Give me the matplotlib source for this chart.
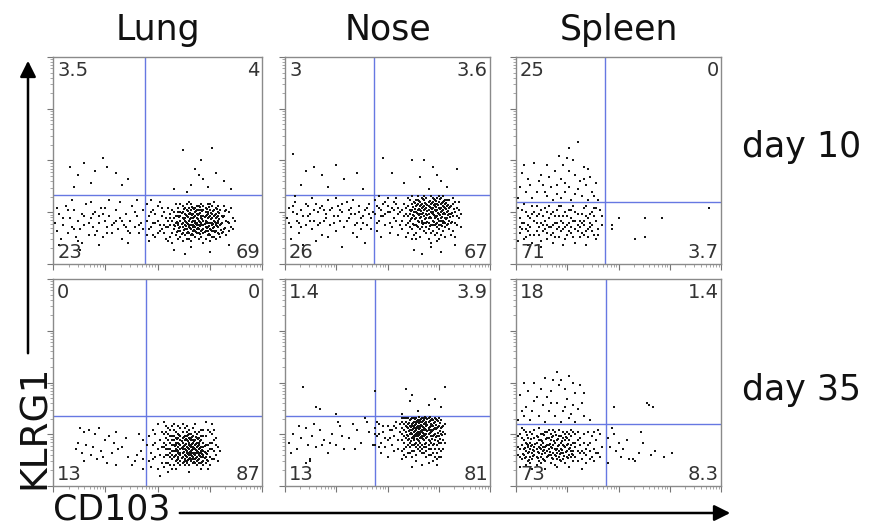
import numpy as np
import matplotlib
matplotlib.use('Agg')
import matplotlib.pyplot as plt
from matplotlib.patches import FancyArrowPatch

plt.rcParams['font.family'] = ['DejaVu Sans']

tissues = ['Lung', 'Nose', 'Spleen']
days = ['day 10', 'day 35']

# gate positions (percent of each axis): CD103 (vertical line), KLRG1 (horizontal line)
gate_x = [[44.0, 43.4, 43.5], [44.3, 43.9, 43.8]]
gate_y = [[33.5, 33.3, 30.0], [34.0, 33.9, 30.0]]

# quadrant percentages: upper-left, upper-right, lower-left, lower-right
quad_labels = [[('3.5', '4', '23', '69'), ('3', '3.6', '26', '67'), ('25', '0', '71', '3.7')],
               [('0', '0', '13', '87'), ('1.4', '3.9', '13', '81'), ('18', '1.4', '73', '8.3')]]

# events (CD103 %, KLRG1 %)
lung_d10 = [
 (8,47),(12,43),(15,49),(20,45),(24,51),(26,47),(30,44),(33,38),(18,39),(10,37),(36,41),
 (62,55),(76,56),(68,46),(70,43),(72,41),(66,38),(74,37),(78,44),(82,40),(85,36),(58,36),(71,50),(64,35),
 (1,20),(2,16),(3,24),(4,12),(5,19),(6,28),(7,15),(8,22),(9,18),(10,26),
 (11,13),(12,21),(13,17),(14,24),(15,19),(16,29),(17,14),(18,22),(19,18),(20,25),
 (21,16),(22,20),(23,27),(24,13),(25,21),(26,18),(27,23),(28,15),(29,20),(30,26),
 (31,17),(32,22),(33,12),(34,19),(35,24),(36,16),(37,21),(38,28),(39,18),(40,23),
 (41,15),(42,20),(43,26),(3,9),(9,31),(14,10),(18,30),(22,9),(27,31),(32,30),
 (36,10),(40,31),(5,22),(10,17),(15,23),(20,14),(24,24),(28,19),(33,21),(37,15),
 (41,19),(2,27),(7,26),(12,11),(17,20),(22,23),(26,15),(30,21),(35,18),(39,25),
 (43,17),(13,7),(25,27),(19,24),
 (45,21),(46,17),(47,25),(48,14),(49,20),(50,28),(51,16),(52,23),(53,19),(54,12),
 (45,29),(46,23),(47,18),(48,26),(49,13),(50,21),(51,30),(52,17),(53,25),(54,22),
 (46,11),(48,20),(50,15),(52,27),(54,18),(45,14),(47,31),(49,24),(51,19),(53,15),
 (55,18),(56,22),(57,15),(58,25),(59,20),(55,27),(56,13),(57,21),(58,17),(59,29),
 (55,11),(56,19),(57,26),(58,22),(59,14),(56,24),(57,10),(58,19),(59,23),(55,21),
 (60,16),(61,21),(62,18),(63,24),(64,20),(60,27),(61,13),(62,22),(63,17),(64,26),
 (60,20),(61,25),(62,15),(63,21),(64,12),(60,23),(61,18),(62,28),(63,19),(64,23),
 (60,12),(61,29),(62,20),(63,14),(64,17),(62,25),(63,27),(64,15),(61,16),(60,19),
 (62,11),(63,22),(64,29),(61,23),(60,25),
 (65,18),(66,22),(67,16),(68,25),(69,20),(65,27),(66,14),(67,21),(68,18),(69,24),
 (65,21),(66,26),(67,19),(68,13),(69,17),(65,15),(66,19),(67,24),(68,21),(69,28),
 (65,24),(66,17),(67,27),(68,16),(69,22),(65,12),(66,29),(67,14),(68,23),(69,15),
 (65,19),(66,24),(67,18),(68,27),(69,19),(66,11),(67,22),(68,20),(69,26),(65,30),
 (70,19),(71,23),(72,17),(73,21),(74,25),(70,15),(71,20),(72,26),(73,18),(74,22),
 (70,24),(71,16),(72,21),(73,27),(74,14),(70,28),(71,13),(72,19),(73,23),(74,18),
 (70,21),(71,26),(72,15),(73,20),(74,29),(70,17),(71,29),(72,23),(73,16),(74,20),
 (70,12),(71,19),(72,28),(73,25),(74,16),(72,10),(73,12),(70,26),(71,22),(74,24),
 (75,20),(76,16),(77,23),(78,19),(79,25),(75,14),(76,22),(77,18),(78,27),(79,15),
 (75,26),(76,19),(77,13),(78,22),(79,20),(75,17),(76,28),(77,21),(78,16),(79,23),
 (75,23),(76,13),(77,26),(78,20),(79,18),(75,29),(76,24),(77,16),(78,12),(79,28),
 (76,20),(77,30),(78,24),(75,11),(79,21),
 (80,19),(81,23),(82,17),(83,21),(84,25),(85,18),(86,22),(80,26),(81,15),(82,28),
 (83,14),(84,20),(85,27),(80,13),(81,20),(82,23),(83,26),(84,16),(86,17),(87,21),
 (58,7),(66,8),(75,6),(84,9),(63,5)]

# extra events in the dense lower-right core of lung day 10
lung_d10_core = [
 (61.5,14.5),(66.5,14.5),(70.5,14.5),(74.5,14.5),(79.5,14.5),
 (59.5,15.5),(64.5,15.5),(68.5,15.5),(72.5,15.5),(77.5,15.5),(81.5,15.5),
 (62.5,16.5),(67.5,16.5),(71.5,16.5),(75.5,16.5),(80.5,16.5),
 (60.5,17.5),(65.5,17.5),(69.5,17.5),(73.5,17.5),(76.5,17.5),(82.5,17.5),
 (58.5,18.5),(63.5,18.5),(67.5,18.5),(70.5,18.5),(74.5,18.5),(78.5,18.5),
 (61.5,19.5),(64.5,19.5),(68.5,19.5),(72.5,19.5),(76.5,19.5),(80.5,19.5),
 (59.5,20.5),(63.5,20.5),(66.5,20.5),(70.5,20.5),(73.5,20.5),(77.5,20.5),(83.5,20.5),
 (62.5,21.5),(65.5,21.5),(69.5,21.5),(71.5,21.5),(75.5,21.5),(79.5,21.5),
 (60.5,22.5),(64.5,22.5),(67.5,22.5),(72.5,22.5),(74.5,22.5),(78.5,22.5),(81.5,22.5),
 (63.5,23.5),(66.5,23.5),(69.5,23.5),(73.5,23.5),(77.5,23.5),
 (61.5,24.5),(65.5,24.5),(70.5,24.5),(75.5,24.5),(79.5,24.5),
 (64.5,25.5),(68.5,25.5),(71.5,25.5),(76.5,25.5),(82.5,25.5),
 (62.5,26.5),(67.5,26.5),(73.5,26.5),(78.5,26.5),
 (66.5,27.5),(70.5,27.5),(74.5,27.5)]

nose_d10 = [
 (4,53),(10,45),(14,47),(18,43),(25,48),(29,41),(35,44),(8,38),(21,37),(38,36),
 (48,51),(62,50),(52,44),(58,39),(66,42),(72,47),(74,43),(76,40),(79,37),(84,46),(70,36),(68,50),
 (1,22),(2,27),(3,18),(4,25),(5,30),(6,21),(7,15),(8,26),(9,23),(10,19),
 (11,28),(12,24),(13,17),(14,21),(15,29),(16,25),(17,20),(18,14),(19,26),(20,22),
 (21,31),(22,19),(23,27),(24,23),(25,16),(26,28),(27,21),(28,25),(29,18),(30,30),
 (31,22),(32,27),(33,15),(34,24),(35,20),(36,28),(37,17),(38,23),(39,26),(40,19),
 (41,29),(42,22),(43,25),(2,20),(4,28),(6,24),(8,18),(10,29),(12,21),(14,26),
 (16,19),(18,28),(20,24),(22,26),(24,20),(26,23),(28,29),(30,21),(32,24),(34,19),
 (36,25),(38,20),(40,27),(42,17),(3,12),(9,9),(15,11),(21,13),(28,8),(35,13),
 (39,10),(5,33),(13,32),(25,32),(33,31),(7,20),(17,27),(27,26),(37,22),(11,23),
 (19,21),(31,26),(41,24),
 (44,24),(45,28),(46,21),(47,26),(48,23),(49,30),(50,25),(51,20),(52,27),(53,22),
 (54,29),(55,24),(56,19),(57,26),(58,23),(44,31),(45,20),(46,27),(47,23),(48,29),
 (49,19),(50,28),(51,25),(52,18),(53,30),(54,21),(55,27),(56,25),(57,17),(58,29),
 (45,16),(47,13),(49,24),(51,15),(53,26),(55,14),(57,21),(46,33),(50,32),(54,32),
 (59,24),(60,28),(61,21),(62,26),(63,30),(59,19),(60,23),(61,31),(62,17),(63,25),
 (59,27),(60,15),(61,26),(62,22),(63,19),(60,32),(61,18),(62,29),(63,23),(59,13),
 (60,20),(62,33),(63,14),(61,24),(62,12),
 (64,25),(65,29),(66,22),(67,27),(68,31),(64,19),(65,24),(66,30),(67,21),(68,26),
 (64,28),(65,18),(66,26),(67,32),(68,20),(64,22),(65,31),(66,17),(67,24),(68,28),
 (64,31),(65,21),(66,28),(67,18),(68,23),(64,15),(65,26),(66,13),(67,29),(68,16),
 (65,33),(66,24),(67,20),(68,33),(64,12),
 (69,27),(70,22),(71,29),(72,24),(73,31),(69,20),(70,26),(71,19),(72,30),(73,23),
 (69,32),(70,17),(71,25),(72,21),(73,28),(69,24),(70,30),(71,22),(72,16),(73,26),
 (69,15),(70,28),(71,33),(72,27),(73,19),(69,29),(70,20),(71,15),(72,32),(73,22),
 (69,22),(70,24),(71,27),(72,19),(73,14),(70,12),(71,10),(72,25),(73,29),(69,18),
 (74,26),(75,21),(76,29),(77,24),(78,31),(74,20),(75,27),(76,22),(77,30),(78,18),
 (74,32),(75,17),(76,25),(77,20),(78,27),(74,23),(75,30),(76,19),(77,26),(78,22),
 (74,15),(75,24),(76,32),(77,16),(78,29),(74,29),(75,19),(76,14),(77,28),(78,24),
 (74,18),(75,33),(76,27),(77,21),(78,13),(75,12),(76,21),(77,33),(74,11),(78,20),
 (79,25),(80,21),(81,28),(82,23),(83,30),(84,19),(85,26),(79,31),(80,17),(81,24),
 (82,29),(83,20),(84,27),(85,22),(79,19),(80,27),(81,14),(82,32),(83,25),(86,24),
 (79,22),(80,31),(81,20),(82,16),(83,13),(84,23),(85,30),(79,28),(80,24),(86,18),
 (63,7),(67,5),(71,8),(76,6),(83,9)]

nose_d10_core = [
 (64.5,18.5),(70.5,18.5),(76.5,18.5),
 (62.5,19.5),(67.5,19.5),(73.5,19.5),(79.5,19.5),
 (65.5,20.5),(69.5,20.5),(72.5,20.5),(77.5,20.5),(81.5,20.5),
 (61.5,21.5),(63.5,21.5),(68.5,21.5),(74.5,21.5),(78.5,21.5),
 (66.5,22.5),(70.5,22.5),(73.5,22.5),(76.5,22.5),(80.5,22.5),
 (62.5,23.5),(65.5,23.5),(69.5,23.5),(72.5,23.5),(75.5,23.5),(79.5,23.5),
 (64.5,24.5),(67.5,24.5),(71.5,24.5),(74.5,24.5),(77.5,24.5),(81.5,24.5),
 (61.5,25.5),(66.5,25.5),(69.5,25.5),(73.5,25.5),(76.5,25.5),(79.5,25.5),
 (63.5,26.5),(65.5,26.5),(68.5,26.5),(71.5,26.5),(75.5,26.5),(78.5,26.5),(82.5,26.5),
 (62.5,27.5),(67.5,27.5),(70.5,27.5),(73.5,27.5),(77.5,27.5),(80.5,27.5),
 (64.5,28.5),(66.5,28.5),(69.5,28.5),(72.5,28.5),(74.5,28.5),(79.5,28.5),
 (63.5,29.5),(68.5,29.5),(71.5,29.5),(76.5,29.5),(78.5,29.5),
 (65.5,30.5),(70.5,30.5),(73.5,30.5),(77.5,30.5),
 (67.5,31.5),(72.5,31.5),(75.5,31.5)]

spleen_d10 = [
 (30,59),(26,56),(21,52),(25,51),(28,50),(4,48),(9,49),(15,48),(23,48),(33,47),
 (19,45),(26,45),(35,46),(3,44),(12,43),(29,43),(36,42),(22,41),(31,40),(7,38),
 (13,38),(2,37),(17,37),(26,37),(34,38),(39,39),(5,35),(10,35),(20,34),(24,35),
 (29,34),(37,35),(15,33),(32,33),(1,32),(8,32),(18,31),(22,32),(27,31),(40,31),
 (11,40),(16,42),(24,39),(30,36),(38,33),(6,41),(14,35),(20,38),(33,41),(35,31),
 (1,27),(2,22),(3,17),(4,12),(5,25),(6,19),(7,14),(8,28),(9,21),(10,16),
 (11,24),(12,11),(13,19),(14,27),(15,15),(16,22),(17,18),(18,25),(19,13),(20,20),
 (21,28),(22,16),(23,23),(24,12),(25,19),(26,26),(27,15),(28,21),(29,17),(30,24),
 (31,13),(32,20),(33,27),(34,16),(35,22),(36,18),(37,25),(38,14),(39,21),(40,17),
 (41,26),(42,19),(2,15),(3,26),(4,20),(5,13),(6,23),(7,18),(8,10),(9,25),
 (10,20),(11,14),(12,26),(13,16),(14,21),(15,12),(16,18),(17,24),(18,15),(19,20),
 (20,26),(21,13),(22,21),(23,17),(24,25),(25,14),(26,20),(27,22),(28,13),(29,25),
 (30,16),(31,21),(32,15),(33,19),(34,23),(35,13),(36,20),(37,16),(38,23),(39,12),
 (1,11),(6,9),(12,8),(18,10),(23,9),(29,10),(34,9),(3,20),(5,17),(7,22),
 (9,14),(11,18),(13,23),(15,19),(17,14),(19,23),(21,18),(23,20),(25,23),(27,18),
 (29,21),(31,18),(33,14),(35,17),(4,29),(10,28),(16,28),(22,28),(28,28),(34,28),
 (39,27),(42,23),(40,14),(2,18),(8,24),(14,17),(20,17),(26,16),(32,24),(36,24),
 (24,18),(18,19),(12,20),(6,16),(30,19),(15,25),(10,23),(27,26),(21,23),(33,21),
 (37,19),(38,27),
 (47,19),(50,22),(47,17),(63,22),(71,22),(58,12),(63,13),(94,27)]

lung_d35 = [
 (13,28),(15,26),(17,27),(20,25),(22,28),(12,21),(16,20),(19,19),(23,17),(25,22),
 (27,24),(29,21),(30,26),(14,16),(18,15),(21,13),(24,14),(28,16),(31,18),(26,11),
 (30,10),(15,12),(11,18),(33,19),(36,14),(38,10),(39,12),(40,15),(42,17),(43,13),
 (43,22),(43,8),(41,25),(35,23),
 (46,12),(47,16),(48,20),(49,14),(50,18),(51,22),(52,11),(46,24),(47,9),(48,27),
 (49,21),(50,8),(51,15),(52,26),(50,30),(48,13),(52,19),(45,20),(51,5),(49,25),
 (53,14),(54,18),(55,22),(56,16),(57,20),(53,25),(54,11),(55,15),(56,27),(57,13),
 (53,19),(54,23),(55,28),(56,10),(57,24),(53,9),(54,29),(55,18),(56,21),(57,17),
 (54,15),(55,11),(56,24),(57,29),(53,21),(55,25),(56,14),(57,8),(54,20),(53,31),
 (56,18),(57,22),(55,7),(54,26),(57,15),
 (58,14),(59,18),(60,21),(61,15),(62,19),(58,22),(59,12),(60,25),(61,18),(62,23),
 (58,17),(59,26),(60,14),(61,22),(62,11),(58,27),(59,20),(60,17),(61,28),(62,16),
 (58,10),(59,15),(60,29),(61,12),(62,26),(58,20),(59,23),(60,11),(61,20),(62,14),
 (58,30),(59,8),(60,19),(61,24),(62,21),(59,17),(60,23),(61,16),(62,30),(58,24),
 (60,16),(61,10),(62,18),(59,21),(60,13),
 (63,13),(64,17),(65,21),(66,15),(67,19),(63,24),(64,11),(65,16),(66,22),(67,14),
 (63,18),(64,22),(65,27),(66,12),(67,24),(63,10),(64,26),(65,13),(66,19),(67,28),
 (63,20),(64,14),(65,18),(66,25),(67,11),(63,28),(64,19),(65,23),(66,16),(67,21),
 (63,15),(64,24),(65,10),(66,20),(67,16),(63,22),(64,16),(65,20),(66,13),(67,18),
 (64,29),(65,15),(66,23),(67,13),(63,12),(65,25),(66,17),(64,12),(67,22),(65,7),
 (68,15),(69,19),(70,13),(71,17),(72,21),(68,22),(69,12),(70,18),(71,24),(72,14),
 (68,18),(69,25),(70,21),(71,11),(72,17),(68,11),(69,16),(70,26),(71,19),(72,24),
 (68,26),(69,21),(70,15),(71,14),(72,10),(68,13),(69,14),(70,11),(71,22),(72,19),
 (68,20),(69,17),(70,16),(71,27),(72,15),(68,16),(69,10),(70,20),(71,16),(72,12),
 (69,23),(70,23),(68,30),(71,8),(72,27),
 (73,16),(74,20),(75,14),(76,18),(77,22),(78,15),(79,19),(73,24),(74,12),(75,21),
 (76,25),(77,13),(78,20),(80,17),(73,11),(74,17),(75,18),(76,13),(77,17),(73,20),
 (74,27),(75,10),(76,21),(73,14),(75,26),(78,23),(74,8),(77,27),(79,12),(76,30),(73,31)]

lung_d35_core = [
 (62.5,11.5),(67.5,11.5),(71.5,11.5),
 (59.5,12.5),(64.5,12.5),(69.5,12.5),(73.5,12.5),
 (61.5,13.5),(65.5,13.5),(68.5,13.5),(72.5,13.5),
 (58.5,14.5),(63.5,14.5),(66.5,14.5),(70.5,14.5),
 (60.5,15.5),(64.5,15.5),(67.5,15.5),(71.5,15.5),(73.5,15.5),
 (62.5,16.5),(65.5,16.5),(69.5,16.5),(72.5,16.5),
 (59.5,17.5),(63.5,17.5),(66.5,17.5),(68.5,17.5),(71.5,17.5),
 (61.5,18.5),(64.5,18.5),(67.5,18.5),(70.5,18.5),
 (58.5,19.5),(62.5,19.5),(65.5,19.5),(69.5,19.5),(72.5,19.5),
 (60.5,20.5),(63.5,20.5),(66.5,20.5),(68.5,20.5),
 (61.5,21.5),(64.5,21.5),(67.5,21.5),(70.5,21.5),
 (59.5,22.5),(63.5,22.5),(65.5,22.5),(69.5,22.5),
 (62.5,23.5),(66.5,23.5),(68.5,23.5),
 (60.5,24.5),(64.5,24.5)]

nose_d35 = [
 (9,48),(15,38),(17,37),(25,35),
 (44,46),(59,47),(62,44),(78,48),(73,42),(61,41),(70,39),(76,38),(65,36),(57,35),
 (2,21),(4,25),(6,18),(8,23),(10,28),(11,20),(13,24),(15,19),(17,27),(19,22),
 (21,16),(23,25),(25,20),(27,29),(29,18),(31,23),(33,30),(35,27),(37,21),(39,33),
 (41,26),(43,20),(3,16),(12,13),(14,30),(22,21),(28,24),(34,18),(40,31),(10,11),
 (12,12),(26,31),(7,29),(18,20),
 (44,28),(45,24),(46,30),(47,21),(48,26),(49,19),(50,29),(51,23),(52,27),(53,17),
 (54,31),(55,22),(56,26),(44,20),(45,31),(46,25),(47,16),(48,29),(49,23),(50,14),
 (51,27),(52,20),(53,24),(54,28),(55,18),(56,30),(46,19),(50,22),(53,29),(44,25),
 (57,28),(58,24),(59,31),(60,20),(61,27),(57,22),(58,30),(59,26),(60,33),(61,21),
 (57,31),(58,18),(59,23),(60,28),(61,32),(57,25),(58,27),(59,19),(60,24),(61,16),
 (57,17),(58,33),(59,29),(60,16),(61,25),(58,21),(59,14),(60,30),(61,29),(57,13),
 (59,33),(60,22),(61,19),(58,15),(57,33),
 (62,27),(63,23),(64,30),(65,25),(66,32),(62,20),(63,29),(64,24),(65,31),(66,21),
 (62,33),(63,26),(64,19),(65,28),(66,25),(62,23),(63,31),(64,27),(65,22),(66,29),
 (62,17),(63,20),(64,33),(65,18),(66,26),(62,30),(63,24),(64,21),(65,32),(66,17),
 (62,25),(63,33),(64,28),(65,26),(66,31),(62,14),(63,17),(64,15),(65,20),(66,23),
 (62,29),(63,28),(64,31),(65,29),(66,28),(64,25),(63,22),(65,24),(64,12),(66,19),
 (67,26),(68,30),(69,23),(70,28),(71,32),(67,20),(68,25),(69,31),(70,22),(71,27),
 (67,33),(68,19),(69,27),(70,31),(71,21),(67,23),(68,32),(69,25),(70,18),(71,29),
 (67,29),(68,22),(69,17),(70,25),(71,24),(67,16),(68,28),(69,33),(70,33),(71,18),
 (67,31),(68,27),(69,29),(70,20),(71,15),(68,16),(69,21),(70,27),(67,24),(71,30),
 (68,33),(69,14),(70,11),(67,27),(68,24),(69,30),(70,15),(71,26),(67,18),(69,19),
 (72,27),(73,31),(74,24),(75,29),(76,21),(77,26),(78,30),(72,20),(73,25),(74,32),
 (75,18),(76,28),(77,22),(72,32),(73,18),(74,28),(75,24),(76,32),(77,18),(78,25),
 (72,24),(73,22),(74,20),(75,33),(76,25),(72,16),(73,28),(74,16),(75,21),(76,17),
 (72,29),(73,14),(74,13),(77,29),(78,21),(72,12),(73,33),(75,14),(76,14),(74,10),
 (67,10),(62,9)]

nose_d35_core = [
 (63.5,20.5),(68.5,20.5),(72.5,20.5),
 (61.5,21.5),(65.5,21.5),(70.5,21.5),(74.5,21.5),
 (60.5,22.5),(64.5,22.5),(67.5,22.5),(71.5,22.5),(75.5,22.5),
 (62.5,23.5),(66.5,23.5),(69.5,23.5),(73.5,23.5),
 (59.5,24.5),(63.5,24.5),(65.5,24.5),(68.5,24.5),(72.5,24.5),(76.5,24.5),
 (61.5,25.5),(64.5,25.5),(67.5,25.5),(70.5,25.5),(74.5,25.5),
 (60.5,26.5),(63.5,26.5),(66.5,26.5),(69.5,26.5),(71.5,26.5),(75.5,26.5),
 (62.5,27.5),(65.5,27.5),(68.5,27.5),(72.5,27.5),(73.5,27.5),
 (59.5,28.5),(61.5,28.5),(64.5,28.5),(67.5,28.5),(70.5,28.5),(74.5,28.5),(76.5,28.5),
 (63.5,29.5),(66.5,29.5),(69.5,29.5),(71.5,29.5),(73.5,29.5),
 (60.5,30.5),(62.5,30.5),(65.5,30.5),(68.5,30.5),(72.5,30.5),(75.5,30.5),
 (64.5,31.5),(67.5,31.5),(70.5,31.5),(74.5,31.5),
 (61.5,32.5),(63.5,32.5),(66.5,32.5),(69.5,32.5),(71.5,32.5),(73.5,32.5),
 (65.5,33.5),(68.5,33.5),(70.5,33.5)]

spleen_d35 = [
 (20,55),(14,52),(18,51),(22,51),(26,53),(4,50),(9,50),(28,50),(31,49),(21,49),
 (12,47),(24,47),(17,46),(29,45),(6,46),(33,45),(2,44),(10,43),(15,43),(25,42),
 (20,40),(28,39),(13,39),(5,38),(3,36),(8,36),(16,36),(23,36),(30,37),(11,34),
 (19,34),(26,33),(33,34),(1,32),(7,32),(14,31),(22,31),(29,31),(36,32),(17,40),
 (9,41),(24,38),(32,40),(4,34),(27,35),
 (48,38),(64,40),(65,39),(67,38),
 (1,24),(2,18),(3,13),(4,27),(5,21),(6,16),(7,11),(8,25),(9,19),(10,14),
 (11,28),(12,22),(13,17),(14,12),(15,26),(16,20),(17,15),(18,24),(19,10),(20,18),
 (21,27),(22,21),(23,13),(24,25),(25,17),(26,22),(27,14),(28,26),(29,19),(30,12),
 (31,23),(32,17),(33,25),(34,15),(35,20),(36,13),(37,24),(38,18),(39,22),(40,16),
 (41,25),(42,19),(2,25),(3,20),(4,15),(5,10),(6,23),(7,18),(8,13),(9,27),
 (10,21),(11,16),(12,11),(13,25),(14,19),(15,14),(16,27),(17,22),(18,16),(19,21),
 (20,13),(21,24),(22,16),(23,20),(24,11),(25,23),(26,15),(27,20),(28,12),(29,25),
 (30,17),(31,20),(32,13),(33,21),(34,18),(35,26),(36,17),(37,14),(38,12),(39,16),
 (1,19),(2,14),(3,28),(4,22),(5,17),(6,12),(7,26),(8,20),(9,15),(10,24),
 (11,19),(12,14),(13,21),(14,26),(15,20),(16,15),(17,11),(18,20),(19,26),(20,22),
 (21,17),(22,12),(23,26),(24,19),(25,14),(26,18),(27,24),(28,17),(29,21),(30,22),
 (3,23),(5,14),(7,21),(9,23),(11,22),(13,13),(15,17),(17,19),(19,15),(21,20),
 (23,16),(25,20),(27,17),(29,14),(31,16),(6,19),(8,16),(10,18),(12,18),(14,16),
 (16,23),(18,13),(20,16),(22,18),(24,22),(26,25),(28,21),(30,26),(4,18),(12,25),
 (2,9),(8,8),(14,8),(20,9),(26,9),(32,8),(11,12),(17,25),(23,23),(5,26),
 (1,15),(19,18),(25,26),(13,19),(7,14),(21,14),(15,23),(9,17),(27,27),(33,16),
 (38,26),(41,14),(36,21),(40,27),(34,11),(6,20),(10,10),(16,18),(22,24),(18,27),
 (28,15),(12,20),
 (45,23),(46,19),(47,28),(48,25),(49,17),(50,21),(51,14),(52,18),(54,22),(55,13),
 (57,13),(58,12),(61,26),(62,21),(60,16),(66,15),(68,17),(76,16),(72,14),(45,11)]

spleen_d35_core = [
 (6.5,12.5),(13.5,12.5),(21.5,12.5),
 (4.5,13.5),(10.5,13.5),(17.5,13.5),(25.5,13.5),
 (8.5,14.5),(15.5,14.5),(19.5,14.5),(23.5,14.5),
 (3.5,15.5),(12.5,15.5),(21.5,15.5),(27.5,15.5),
 (6.5,16.5),(10.5,16.5),(16.5,16.5),(24.5,16.5),
 (8.5,17.5),(13.5,17.5),(19.5,17.5),(22.5,17.5),
 (4.5,18.5),(11.5,18.5),(17.5,18.5),(26.5,18.5),
 (7.5,19.5),(14.5,19.5),(20.5,19.5),(23.5,19.5),
 (5.5,20.5),(9.5,20.5),(16.5,20.5),(25.5,20.5),
 (12.5,21.5),(18.5,21.5),(22.5,21.5),
 (7.5,22.5),(14.5,22.5),(20.5,22.5),
 (10.5,23.5),(17.5,23.5),(24.5,23.5),
 (5.5,24.5),(13.5,24.5),(19.5,24.5)]

events = [[lung_d10 + lung_d10_core, nose_d10 + nose_d10_core, spleen_d10],
          [lung_d35 + lung_d35_core, nose_d35 + nose_d35_core, spleen_d35 + spleen_d35_core]]

# ---------------- layout (pixels of an 869x529 canvas) ----------------
W, H = 869, 529
col_px = [(53, 262), (285, 490), (516, 721)]
row_px = [(57, 264), (279, 486)]

fig = plt.figure(figsize=(W / 100, H / 100), dpi=100)

major = [0, 25, 50, 75, 100]
minor = [d * 25 + 25 * np.log10(k) for d in range(4) for k in range(2, 10)]

gate_color = '#6678e2'
for r in range(2):
    for c in range(3):
        x0, x1 = col_px[c]
        y0, y1 = row_px[r]
        ax = fig.add_axes([x0 / W, 1 - y1 / H, (x1 - x0) / W, (y1 - y0) / H])
        pts = np.array(events[r][c], dtype=float)
        ax.scatter(pts[:, 0], pts[:, 1], s=2.8, marker='s', c='#151515', linewidths=0, zorder=3)
        ax.axvline(gate_x[r][c], color=gate_color, lw=1.0, zorder=2)
        ax.axhline(gate_y[r][c], color=gate_color, lw=1.0, zorder=2)
        ax.set_xlim(0, 100)
        ax.set_ylim(0, 100)
        for sp in ax.spines.values():
            sp.set_color('#8a8a8a')
            sp.set_linewidth(1.0)
        ax.set_xticks(major)
        ax.set_yticks(major)
        ax.set_xticks(minor, minor=True)
        ax.set_yticks(minor, minor=True)
        ax.tick_params(which='major', length=4, width=0.8, color='#777777', direction='out',
                       labelbottom=False, labelleft=False)
        ax.tick_params(which='minor', length=2, width=0.6, color='#999999', direction='out')
        ul, ur, ll, lr = quad_labels[r][c]
        kw = dict(fontsize=14, color='#333333', zorder=4)
        ax.text(2, 98, ul, ha='left', va='top', **kw)
        ax.text(99, 98, ur, ha='right', va='top', **kw)
        ax.text(2, 1, ll, ha='left', va='bottom', **kw)
        ax.text(99, 1, lr, ha='right', va='bottom', **kw)
        if r == 0:
            ax.text(0.5, 1.0 + 27 / (y1 - y0), tissues[c], transform=ax.transAxes,
                    ha='center', va='center', fontsize=25, color='#111111')

# row labels
fig.text(802 / W, 1 - 147 / H, days[0], ha='center', va='center', fontsize=25, color='#111111')
fig.text(802 / W, 1 - 390 / H, days[1], ha='center', va='center', fontsize=25, color='#111111')

# axis titles with arrows
fig.text(35 / W, 1 - 427 / H, 'KLRG1', rotation=90, ha='center', va='center', fontsize=27, color='#111111')
fig.text(53 / W, 1 - 510 / H, 'CD103', ha='left', va='center', fontsize=25, color='#111111')

arr_kw = dict(transform=fig.transFigure, arrowstyle='-|>', mutation_scale=24, lw=1.8, color='black')
fig.add_artist(FancyArrowPatch((28 / W, 1 - 356 / H), (28 / W, 1 - 58 / H), **arr_kw))
fig.add_artist(FancyArrowPatch((177 / W, 1 - 513 / H), (733 / W, 1 - 513 / H), **arr_kw))

fig.savefig('out.png', dpi=100, facecolor='white')
